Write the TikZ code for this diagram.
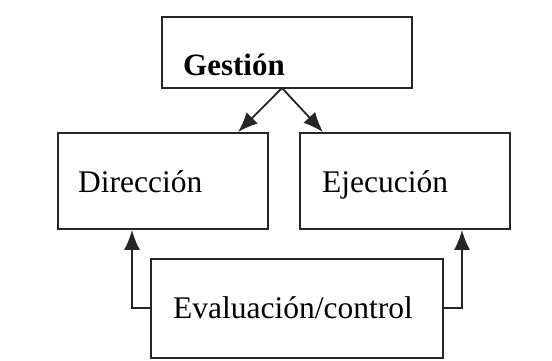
\documentclass[tikz,border=0pt]{standalone}
\usepackage{fontspec}
\setmainfont{Liberation Serif}
\usetikzlibrary{arrows.meta}
\begin{document}
\begin{tikzpicture}[x=1pt,y=-1pt,
  boxnode/.style={draw=black!85,line width=1.8pt,minimum width=#1,inner sep=0pt},
  lbl/.style={anchor=base west,inner sep=0pt,font=\fontsize{31.5}{36}\selectfont},
  conn/.style={draw=black!85,line width=1.8pt,-{Latex[length=20pt,width=16pt]}}]
\useasboundingbox (0,0) rectangle (552,360);
\node[boxnode=250pt,minimum height=71pt] (ges) at (287,52.5) {};
\node[boxnode=210pt,minimum height=96pt] (dir) at (163,181) {};
\node[boxnode=210pt,minimum height=96pt] (eje) at (405,181) {};
\node[boxnode=292pt,minimum height=99pt] (eva) at (297,308.5) {};
\node[lbl,font=\fontsize{31}{36}\selectfont\bfseries] (tges) at (183,75) {Gestión};
\node[lbl] (tdir) at (78,192) {Dirección};
\node[lbl] (teje) at (322,192) {Ejecución};
\node[lbl] (teva) at (173,318) {Evaluación/control};
\coordinate (g0) at (282,88);
\draw[conn] (g0) -- (dir.north -| 238,0);
\draw[conn] (g0) -- (eje.north -| 323,0);
\draw[conn] (eva.west |- 0,308) -| (dir.south -| 132,0);
\draw[conn] (eva.east |- 0,308) -| (eje.south -| 462,0);
\end{tikzpicture}
\end{document}
